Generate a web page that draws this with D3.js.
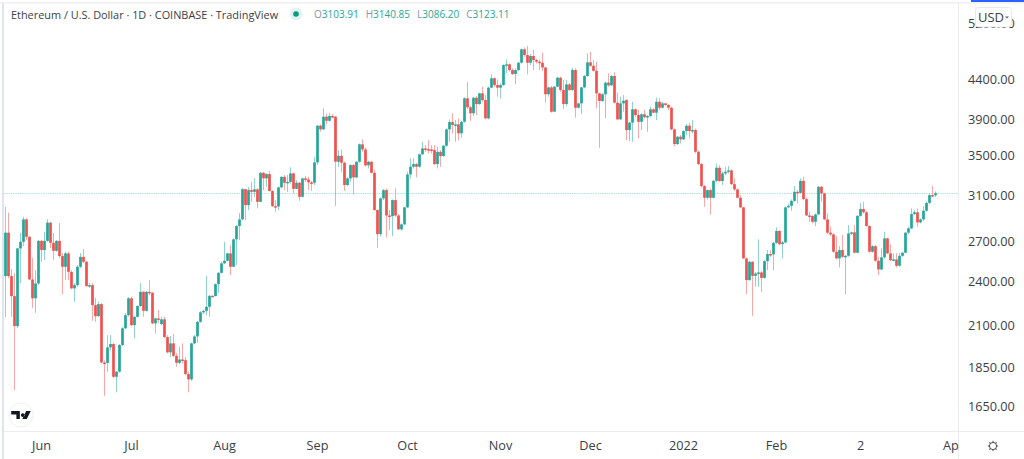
<!DOCTYPE html>
<html>
<head>
<meta charset="utf-8">
<script src="https://cdn.jsdelivr.net/npm/d3@7"></script>
<style>
  html, body { margin: 0; padding: 0; background: #fff; overflow: hidden; }
  svg { display: block; font-family: "Open Sans", "Noto Sans", sans-serif; }
  .axis path, .axis line { display: none; }
  .axis text { fill: #3a3e48; font-size: 12.7px; font-family: "Open Sans", "Noto Sans", sans-serif; }
  .candles { filter: blur(0.3px); }
</style>
</head>
<body>
<svg id="chart" width="1024" height="459"></svg>
<script>
// daily candles, May 20 2021 -> Mar 26 2022
const firstDay = '2021-05-20';
const lastDay = '2022-03-26';

const opens = [
  2436, 2775, 2436, 2294, 2097, 2647, 2700, 2888, 2741, 2412,
  2279, 2383, 2708, 2634, 2708, 2860, 2692, 2628, 2708, 2587,
  2505, 2608, 2467, 2348, 2371, 2505, 2581, 2543, 2364, 2371,
  2233, 2160, 2240, 1880, 1878, 1967, 1987, 1801, 1829, 1981,
  2083, 2167, 2279, 2103, 2156, 2227, 2324, 2195, 2324, 2317,
  2114, 2146, 2110, 2140, 2029, 1938, 1991, 1918, 1878, 1897,
  1893, 1816, 1787, 1991, 2033, 2124, 2185, 2195, 2222, 2296,
  2294, 2378, 2460, 2531, 2551, 2608, 2505, 2720, 2831, 2888,
  3162, 3014, 3153, 3137, 3160, 3044, 3321, 3266, 3308, 3144,
  3005, 3002, 3179, 3281, 3223, 3232, 3315, 3165, 3223, 3090,
  3266, 3256, 3227, 3223, 3426, 3825, 3783, 3930, 3882, 3938,
  3930, 3433, 3495, 3423, 3201, 3266, 3399, 3275, 3433, 3617,
  3562, 3396, 3433, 3321, 2970, 2763, 3076, 3153, 2922, 2917,
  3060, 2922, 2803, 2845, 2994, 3305, 3382, 3409, 3382, 3510,
  3573, 3565, 3562, 3555, 3409, 3537, 3492, 3602, 3783, 3867,
  3833, 3840, 3739, 3870, 4152, 4042, 3970, 4160, 4082, 4215,
  4131, 3910, 4287, 4410, 4321, 4287, 4321, 4588, 4598, 4520,
  4466, 4520, 4620, 4810, 4728, 4620, 4714, 4658, 4634, 4620,
  4555, 4203, 4291, 3989, 4300, 4417, 4257, 4082, 4330, 4257,
  4520, 4037, 4090, 4291, 4440, 4626, 4578, 4510, 4215, 4119,
  4203, 4352, 4317, 4440, 4098, 3898, 4090, 4131, 3775, 3860,
  4018, 3950, 3870, 3958, 3923, 3938, 4018, 3977, 4110, 4037,
  4090, 4070, 4037, 3783, 3620, 3701, 3671, 3764, 3825, 3764,
  3775, 3537, 3409, 3191, 3081, 3153, 3081, 3242, 3372, 3240,
  3315, 3331, 3345, 3210, 3160, 3081, 2994, 2569, 2407, 2543,
  2438, 2455, 2463, 2423, 2548, 2603, 2600, 2692, 2789, 2681,
  2695, 2994, 3008, 3053, 3137, 3127, 3242, 3069, 2922, 2917,
  2867, 2931, 3185, 3122, 2888, 2775, 2761, 2621, 2569, 2634,
  2581, 2589, 2769, 2778, 2613, 2919, 2979, 2950, 2831, 2621,
  2665, 2551, 2485, 2577, 2728, 2608, 2556, 2561, 2513, 2589,
  2613, 2775, 2811, 2934, 2950, 2862, 2888, 2964, 3035, 3106,
  3103.91
];
const highs = [
  3000, 2946, 2488, 2458, 2650, 2772, 2911, 2899, 2747, 2571,
  2480, 2714, 2714, 2783, 2890, 2865, 2772, 2714, 2856, 2610,
  2621, 2621, 2480, 2385, 2518, 2610, 2642, 2551, 2385, 2385,
  2281, 2255, 2247, 1893, 2041, 2041, 1993, 1832, 1987, 2091,
  2180, 2287, 2290, 2160, 2233, 2385, 2329, 2329, 2407, 2324,
  2150, 2200, 2156, 2156, 2041, 2035, 2047, 1934, 1970, 1991,
  1912, 1829, 1995, 2041, 2130, 2193, 2200, 2436, 2301, 2301,
  2383, 2467, 2543, 2700, 2613, 2673, 2728, 2839, 2943, 3172,
  3165, 3182, 3232, 3268, 3172, 3328, 3331, 3315, 3338, 3153,
  3060, 3185, 3288, 3298, 3298, 3375, 3321, 3249, 3232, 3272,
  3288, 3281, 3242, 3484, 3833, 3840, 4030, 3962, 3970, 3962,
  3938, 3555, 3562, 3433, 3275, 3406, 3409, 3440, 3627, 3671,
  3583, 3443, 3443, 3348, 2976, 3085, 3162, 3169, 2970, 3066,
  3169, 2934, 2853, 2999, 3331, 3468, 3468, 3423, 3520, 3645,
  3609, 3664, 3609, 3609, 3591, 3555, 3609, 3794, 3898, 3970,
  3890, 3910, 3882, 4165, 4365, 4058, 4170, 4180, 4223, 4300,
  4194, 4300, 4462, 4422, 4396, 4343, 4598, 4666, 4610, 4544,
  4544, 4634, 4824, 4838, 4858, 4743, 4800, 4675, 4666, 4762,
  4564, 4300, 4308, 4308, 4430, 4430, 4387, 4387, 4343, 4551,
  4544, 4098, 4300, 4453, 4750, 4771, 4658, 4634, 4223, 4215,
  4365, 4475, 4453, 4490, 4223, 4173, 4194, 4140, 3870, 4110,
  4030, 4009, 3970, 4009, 3950, 4050, 4030, 4160, 4152, 4110,
  4098, 4082, 4050, 3794, 3709, 3720, 3775, 3844, 3860, 3890,
  3794, 3548, 3423, 3201, 3160, 3169, 3249, 3416, 3399, 3331,
  3382, 3389, 3355, 3266, 3169, 3106, 2999, 2574, 2551, 2548,
  2467, 2720, 2473, 2556, 2634, 2634, 2700, 2820, 2797, 2708,
  2999, 3029, 3066, 3191, 3153, 3266, 3281, 3085, 2955, 2925,
  2940, 3191, 3191, 3127, 2940, 2825, 2769, 2747, 2665, 2755,
  2595, 2839, 2783, 2839, 2925, 3035, 3044, 2961, 2836, 2673,
  2673, 2581, 2648, 2783, 2733, 2679, 2608, 2608, 2613, 2621,
  2783, 2825, 2985, 2970, 2985, 2897, 3005, 3044, 3122, 3195,
  3140.85
];
const lows = [
  2155, 2421, 2156, 1731, 2084, 2385, 2665, 2714, 2407, 2213,
  2182, 2371, 2543, 2556, 2700, 2650, 2556, 2621, 2571, 2308,
  2407, 2407, 2343, 2255, 2359, 2495, 2533, 2359, 2350, 2130,
  2124, 2156, 1876, 1701, 1829, 1951, 1794, 1719, 1823, 1975,
  2078, 2156, 2097, 2021, 2152, 2222, 2156, 2189, 2301, 2110,
  2052, 2114, 2103, 2021, 1932, 1912, 1912, 1856, 1870, 1875,
  1810, 1719, 1779, 1987, 1995, 2118, 2173, 2167, 2156, 2290,
  2294, 2315, 2455, 2526, 2543, 2443, 2503, 2518, 2714, 2882,
  2882, 2970, 3044, 3090, 2985, 3042, 3153, 3185, 3141, 2999,
  2955, 2970, 3169, 3153, 3137, 3215, 3122, 3160, 3053, 3085,
  3232, 3153, 3146, 3201, 3399, 3756, 3775, 3840, 3870, 3910,
  3007, 3382, 3331, 3144, 3191, 3232, 3112, 3266, 3423, 3537,
  3382, 3365, 3315, 2964, 2652, 2741, 3060, 2735, 2797, 2747,
  2910, 2797, 2791, 2839, 2985, 3266, 3365, 3275, 3372, 3503,
  3537, 3520, 3520, 3399, 3365, 3382, 3485, 3591, 3645, 3739,
  3645, 3664, 3690, 3860, 4018, 3882, 3938, 3950, 4070, 4110,
  3898, 3898, 4279, 4300, 4173, 4152, 4308, 4480, 4498, 4453,
  4330, 4510, 4610, 4704, 4462, 4588, 4520, 4610, 4520, 4510,
  4098, 4173, 3977, 3982, 4291, 4235, 4021, 4058, 4248, 4244,
  3918, 4025, 3962, 4279, 4430, 4564, 4498, 4030, 3580, 4110,
  3910, 4300, 4308, 4090, 3890, 3890, 3989, 3664, 3653, 3645,
  3923, 3683, 3775, 3910, 3756, 3923, 3970, 3890, 4009, 4025,
  4058, 4009, 3775, 3598, 3609, 3627, 3664, 3720, 3683, 3739,
  3520, 3399, 3179, 2999, 3066, 2931, 3076, 3232, 3232, 3201,
  3298, 3315, 3201, 3146, 3076, 2985, 2564, 2308, 2402, 2162,
  2359, 2359, 2324, 2419, 2480, 2581, 2480, 2681, 2673, 2569,
  2687, 2985, 2964, 3044, 3029, 3122, 3060, 2917, 2867, 2853,
  2831, 2925, 3044, 2882, 2763, 2747, 2613, 2561, 2500, 2574,
  2306, 2581, 2755, 2608, 2608, 2910, 2940, 2825, 2613, 2613,
  2543, 2443, 2480, 2569, 2603, 2548, 2551, 2500, 2505, 2581,
  2608, 2763, 2803, 2925, 2825, 2853, 2876, 2955, 3023, 3085,
  3086.20
];
const closes = [
  2775, 2436, 2294, 2097, 2647, 2700, 2888, 2741, 2412, 2279,
  2383, 2708, 2634, 2708, 2860, 2692, 2628, 2708, 2587, 2505,
  2608, 2467, 2348, 2371, 2505, 2581, 2543, 2364, 2371, 2233,
  2160, 2240, 1880, 1878, 1967, 1987, 1801, 1829, 1981, 2083,
  2167, 2279, 2103, 2156, 2227, 2324, 2195, 2324, 2317, 2114,
  2146, 2140, 2140, 2029, 1938, 1991, 1918, 1878, 1897, 1893,
  1816, 1787, 1991, 2033, 2124, 2185, 2195, 2222, 2296, 2294,
  2378, 2460, 2531, 2551, 2608, 2505, 2720, 2831, 2888, 3162,
  3014, 3153, 3137, 3160, 3044, 3321, 3266, 3308, 3144, 3005,
  3002, 3179, 3281, 3223, 3232, 3315, 3165, 3223, 3090, 3266,
  3256, 3227, 3223, 3426, 3825, 3783, 3930, 3882, 3938, 3930,
  3433, 3495, 3423, 3201, 3266, 3399, 3275, 3433, 3617, 3562,
  3396, 3433, 3321, 2970, 2763, 3076, 3153, 2922, 2917, 3060,
  2922, 2803, 2845, 2994, 3305, 3382, 3409, 3382, 3510, 3573,
  3565, 3562, 3555, 3409, 3537, 3492, 3602, 3783, 3867, 3833,
  3840, 3739, 3870, 4152, 4042, 3970, 4160, 4082, 4215, 4131,
  3910, 4287, 4410, 4321, 4287, 4321, 4588, 4598, 4520, 4466,
  4520, 4620, 4810, 4728, 4620, 4714, 4658, 4634, 4620, 4555,
  4203, 4291, 3989, 4300, 4417, 4257, 4082, 4330, 4257, 4520,
  4037, 4090, 4291, 4440, 4626, 4578, 4510, 4215, 4119, 4203,
  4352, 4317, 4440, 4098, 3898, 4090, 4122, 3775, 3860, 4018,
  3950, 3870, 3958, 3923, 3938, 4018, 3977, 4110, 4037, 4090,
  4070, 4037, 3783, 3620, 3701, 3671, 3764, 3825, 3764, 3775,
  3537, 3409, 3191, 3081, 3153, 3081, 3242, 3372, 3240, 3315,
  3331, 3345, 3210, 3160, 3081, 2994, 2569, 2407, 2543, 2438,
  2455, 2463, 2423, 2548, 2603, 2600, 2692, 2789, 2681, 2695,
  2994, 3008, 3053, 3137, 3127, 3242, 3069, 2922, 2917, 2867,
  2931, 3185, 3122, 2888, 2775, 2761, 2621, 2569, 2634, 2581,
  2589, 2769, 2778, 2613, 2919, 2979, 2950, 2831, 2621, 2665,
  2551, 2485, 2577, 2728, 2608, 2556, 2561, 2513, 2589, 2613,
  2775, 2811, 2934, 2950, 2862, 2888, 2964, 3035, 3106, 3097,
  3123.11
];

const priceTicks = [1650, 1850, 2100, 2400, 2700, 3100, 3500, 3900, 4400, 5200];
const timeTicks = ['2021-06-01', '2021-07-01', '2021-08-01', '2021-09-01', '2021-10-01', '2021-11-01',
  '2021-12-01', '2022-01-01', '2022-02-01', '2022-03-01', '2022-04-01'];
const timeLabels = ['Jun', 'Jul', 'Aug', 'Sep', 'Oct', 'Nov', 'Dec', '2022', 'Feb', '2', 'Apr'];

const up = '#26a69a';
const down = '#ef5350';

const parseDay = d3.utcParse('%Y-%m-%d');
const days = d3.utcDay.range(parseDay(firstDay), d3.utcDay.offset(parseDay(lastDay), 1));

const x = d3.scaleUtc().domain([parseDay(firstDay), parseDay(lastDay)]).range([5, 935]);
const y = d3.scaleLog().domain([1650, 4400]).range([406, 79]);

const svg = d3.select('#chart');

// frame
svg.append('rect').attr('x', 0).attr('y', 2).attr('width', 1024).attr('height', 1.5).attr('fill', '#eef0f4');
svg.append('rect').attr('x', 2).attr('y', 3).attr('width', 2).attr('height', 456).attr('fill', '#dfe4ee');
svg.append('rect').attr('x', 971).attr('y', 0).attr('width', 53).attr('height', 2).attr('fill', '#2962ff');
svg.append('line').attr('x1', 958.5).attr('x2', 958.5).attr('y1', 3).attr('y2', 459).attr('stroke', '#eaecf0');
svg.append('line').attr('x1', 4).attr('x2', 1024).attr('y1', 431.5).attr('y2', 431.5).attr('stroke', '#eaecf0');

// last price line
svg.append('line')
  .attr('x1', 4).attr('x2', 958)
  .attr('y1', Math.round(y(closes[closes.length - 1])) + 0.5)
  .attr('y2', Math.round(y(closes[closes.length - 1])) + 0.5)
  .attr('stroke', '#b5e2dd').attr('stroke-dasharray', '1.5 0.8');

// candles
const candles = svg.append('g').attr('class', 'candles');
days.forEach((day, i) => {
  let isUp = closes[i] >= opens[i];
  let color = isUp ? up : down;
  let cx = Math.round(x(day));
  candles.append('line')
    .attr('x1', cx + 0.5).attr('x2', cx + 0.5)
    .attr('y1', y(highs[i])).attr('y2', y(lows[i]))
    .attr('stroke', color).attr('stroke-opacity', 0.5);
  let top = y(Math.max(opens[i], closes[i]));
  let bottom = y(Math.min(opens[i], closes[i]));
  candles.append('rect')
    .attr('x', cx - 0.85).attr('width', 2.7)
    .attr('y', top).attr('height', Math.max(bottom - top, 1.5))
    .attr('fill', color);
});

// axes
const yAxis = d3.axisRight(y).tickValues(priceTicks).tickFormat(d3.format('.2f')).tickSize(0).tickPadding(0);
svg.append('g').attr('class', 'axis').attr('transform', 'translate(968,0)').call(yAxis);

const xAxis = d3.axisBottom(x)
  .tickValues(timeTicks.map(parseDay))
  .tickFormat((d, i) => timeLabels[i])
  .tickSize(0).tickPadding(0);
svg.append('g').attr('class', 'axis').attr('transform', 'translate(0,441)').call(xAxis);

// cover for the Apr label past the price axis
svg.append('rect').attr('x', 959).attr('y', 432).attr('width', 65).attr('height', 27).attr('fill', '#fff');

// legend
svg.append('text').attr('x', 11).attr('y', 19)
  .attr('font-size', 10.9).attr('fill', '#3a3e48')
  .text('Ethereum / U.S. Dollar · 1D · COINBASE · TradingView');
svg.append('circle').attr('cx', 296).attr('cy', 14).attr('r', 6.5).attr('fill', '#e3f3f1');
svg.append('circle').attr('cx', 296).attr('cy', 14).attr('r', 2.8).attr('fill', '#089981');

const ohlc = svg.append('text').attr('x', 314).attr('y', 18).attr('font-size', 10).attr('fill', '#26a69a');
[['O', opens], ['H', highs], ['L', lows], ['C', closes]].forEach(([name, values]) => {
  ohlc.append('tspan').attr('fill', '#8a93a6').attr('dx', name === 'O' ? 0 : 7).text(name);
  ohlc.append('tspan').text(d3.format('.2f')(values[values.length - 1]));
});

// USD box, sits over the top price label like in the original
svg.append('rect').attr('x', 975.5).attr('y', 7.5).attr('width', 36).attr('height', 19.5).attr('rx', 3)
  .attr('fill', '#fff').attr('stroke', '#e6e8ee');
svg.append('text').attr('x', 978).attr('y', 21.5).attr('font-size', 13).attr('fill', '#3a3e48').text('USD');
svg.append('path').attr('d', 'M1005 16.5h4l-2 2z').attr('fill', '#5a6070');

// tradingview badge
const badge = svg.append('g').attr('transform', 'translate(21,415)');
badge.append('circle').attr('r', 12).attr('fill', '#fff').attr('stroke', '#eef0f3');
badge.append('path').attr('fill', '#131722').attr('transform', 'scale(1.15)')
  .attr('d', 'M-8.5 -3.5H-1V3.5H-4V-0.5H-8.5ZM1.5 -1.5a1.6 1.6 0 1 0 0.01 0ZM4.5 -3.5H8.5L5 3.5H1.2Z');

// settings icon
const gear = svg.append('g').attr('transform', 'translate(993,446)').attr('fill', 'none').attr('stroke', '#4a4f5c');
gear.append('circle').attr('r', 3.6);
d3.range(8).forEach(k => {
  gear.append('line').attr('x1', 0).attr('x2', 0).attr('y1', -3.6).attr('y2', -5.2)
    .attr('transform', `rotate(${k * 45})`);
});
</script>
</body>
</html>
